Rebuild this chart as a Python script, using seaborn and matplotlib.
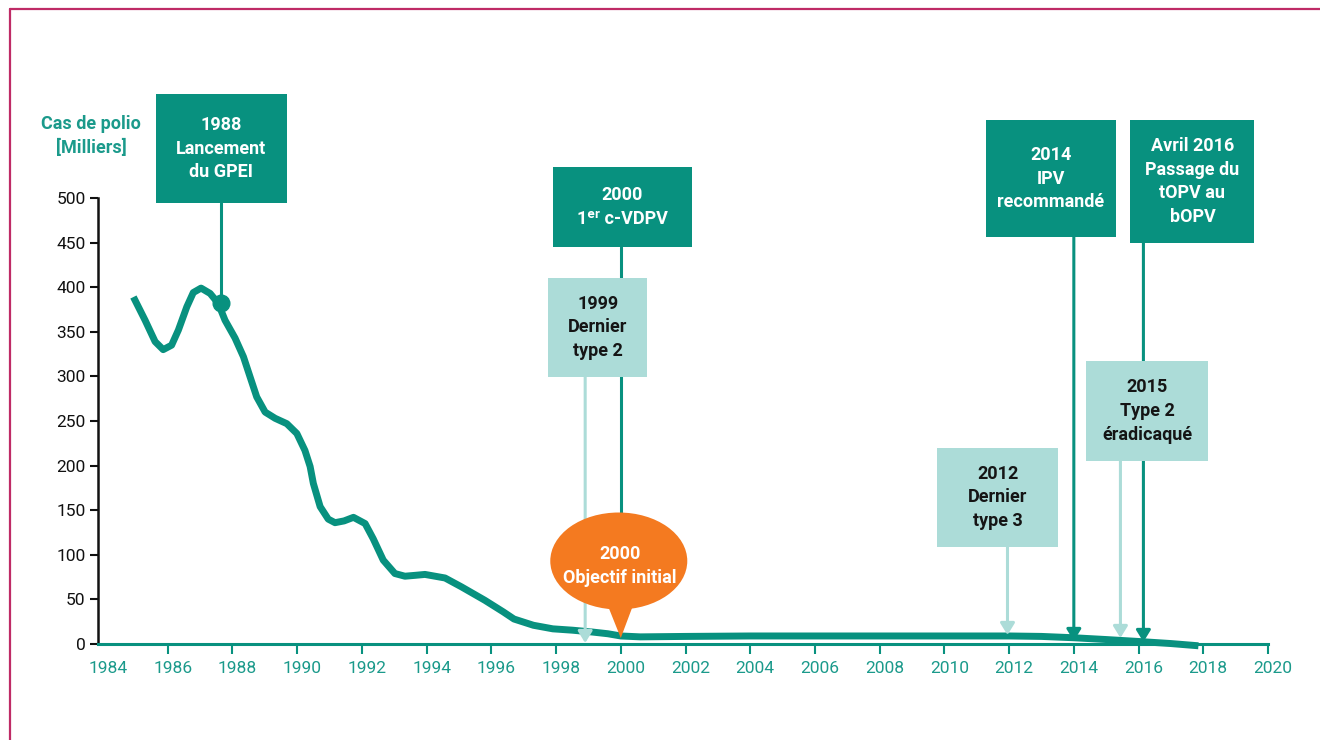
import numpy as np
import pandas as pd
import matplotlib
matplotlib.use('Agg')
import matplotlib.pyplot as plt
import seaborn as sns
from matplotlib.patches import Rectangle, Ellipse, Polygon
from matplotlib.lines import Line2D
import matplotlib.transforms as mtransforms

# ---------------- data ----------------
years = [1984.94, 1985.30, 1985.61, 1985.86, 1986.12, 1986.33, 1986.59, 1986.79, 1987.03, 1987.31,
         1987.56, 1987.77, 1988.08, 1988.34, 1988.54, 1988.75, 1989.01, 1989.32, 1989.68, 1989.99,
         1990.24, 1990.40, 1990.50, 1990.71, 1990.96, 1991.17, 1991.45, 1991.74, 1992.10, 1992.35,
         1992.66, 1993.02, 1993.33, 1993.65, 1993.95, 1994.57, 1995.08, 1995.80, 1996.37, 1996.70,
         1997.30, 1997.90, 1998.50, 1999.10, 1999.60, 2000.00, 2000.60, 2002.0, 2004.0, 2006.0,
         2008.0, 2010.0, 2012.0, 2013.0, 2014.0, 2015.0, 2016.15, 2017.0, 2017.85]
cases = [389, 363, 339, 330, 335, 352, 378, 394, 399, 393,
         382, 363, 343, 322, 300, 277, 260, 253, 247, 236,
         217, 199, 180, 154, 140, 136, 138, 142, 135, 118,
         94, 79, 76, 77, 78, 74, 64, 49, 36, 28,
         21, 17, 15.5, 13.5, 11.5, 9, 8, 8.5, 9, 9,
         9, 9, 9, 8.5, 7, 5, 2.5, 0.5, -2]

tick_years = list(range(1984, 2021, 2))
ytick_vals = list(range(0, 501, 50))

event_years = [1987.65, 2000.0, 1998.9, 2011.95, 2014.0, 2016.15, 2015.44]
event_labels = ['1988\nLancement\ndu GPEI',
                '2000\n1\u1d49\u02b3 c-VDPV',
                '1999\nDernier\ntype 2',
                '2012\nDernier\ntype 3',
                '2014\nIPV\nrecommandé',
                'Avril 2016\nPassage du\ntOPV au\nbOPV',
                '2015\nType 2\néradicaqué']
event_kinds = ['dark', 'dark', 'light', 'light', 'dark', 'dark', 'light']

goal_year = 2000.0
goal_label = '2000\nObjectif initial'
ylabel_text = 'Cas de polio\n[Milliers]'

# ---------------- style ----------------
DARK = '#08917f'
LIGHT = '#acdcd8'
ORANGE = '#f47a20'
TEAL_TXT = '#1b9a8b'
BORDER = '#bf2b66'

sns.set_theme(style='white')
plt.rcParams['font.family'] = ['Roboto', 'DejaVu Sans']

W, H = 1320, 740
fig = plt.figure(figsize=(W / 100, H / 100), dpi=100)
AX_L, AX_R, AX_B, AX_T = 98, 1268, 644, 198
ax = fig.add_axes([AX_L / W, 1 - AX_B / H, (AX_R - AX_L) / W, (AX_B - AX_T) / H])
XMIN, XMAX, YMIN, YMAX = 1984 - 5 / 32.36, 2020, 0, 500
ax.set_xlim(XMIN, XMAX)
ax.set_ylim(YMIN, YMAX)
PX_X = (AX_R - AX_L) / (XMAX - XMIN)
PX_Y = (AX_B - AX_T) / (YMAX - YMIN)


def dx(px):
    return px / PX_X


def dy(px):
    return px / PX_Y


def yv(py):
    return (AX_B - py) / PX_Y


# curve
df = pd.DataFrame({'year': years, 'cases': cases})
sns.lineplot(data=df, x='year', y='cases', ax=ax, color=DARK, lw=5, zorder=5)
curve = ax.lines[-1]
curve.set_clip_on(False)
curve.set_solid_joinstyle('round')
curve.set_solid_capstyle('butt')

# axes styling
for s in ['top', 'right']:
    ax.spines[s].set_visible(False)
ax.spines['left'].set_color('#111111')
ax.spines['left'].set_linewidth(1.8)
ax.spines['bottom'].set_color(DARK)
ax.spines['bottom'].set_linewidth(2.2)
ax.set_xticks(tick_years)
ax.set_xticklabels([str(y) for y in tick_years])
ax.set_yticks(ytick_vals)
ax.set_yticklabels([str(v) for v in ytick_vals])
ax.tick_params(axis='x', colors=DARK, labelcolor=TEAL_TXT, direction='out',
               length=7, width=1.5, labelsize=12.5, pad=5, bottom=True)
ax.tick_params(axis='y', colors='#111111', direction='out', length=6, width=1.5,
               labelsize=12.5, pad=3, left=True)
ax.xaxis.get_major_ticks()[0].tick1line.set_visible(False)
ax.set_xlabel('')
ax.set_ylabel('')
ax.grid(False)
off = mtransforms.ScaledTranslation(5 / 100, 0, fig.dpi_scale_trans)
for lab in ax.get_xticklabels():
    lab.set_transform(lab.get_transform() + off)

# ---------------- annotations ----------------
box_dx = [0, 1.5, 12.5, -9.5, -23, 49, 27]
box_w = [131, 139, 99, 121, 130, 124, 122]
box_top = [94, 167, 278, 448, 120, 120, 361]
box_bot = [203, 247, 377, 547, 237, 243, 461]
tip_py = [None, None, 643, 635, 641, 642, 638]
box_z = [8, 8, 9, 8, 8, 8, 9]

arrow_style = '-|>,head_length=0.7,head_width=0.43'

for i, ev in enumerate(event_years):
    kind = event_kinds[i]
    fc = DARK if kind == 'dark' else LIGHT
    tc = 'white' if kind == 'dark' else '#151515'
    cx = ev + dx(box_dx[i])
    w = dx(box_w[i])
    y0 = yv(box_bot[i])
    h = yv(box_top[i]) - y0
    ax.add_patch(Rectangle((cx - w / 2, y0), w, h, facecolor=fc, edgecolor='none',
                           zorder=box_z[i], clip_on=False))
    ax.text(cx, y0 + h / 2, event_labels[i], ha='center', va='center', color=tc,
            fontsize=13, fontweight='bold', linespacing=1.4, zorder=box_z[i] + 0.5,
            clip_on=False)
    if i == 0:
        val = 382
        ax.plot([ev, ev], [y0, val], color=DARK, lw=2.2, zorder=4, clip_on=False)
        ax.plot([ev], [val], marker='o', ms=12, color=DARK, zorder=6, clip_on=False)
    elif i == 1:
        ax.plot([ev, ev], [y0, yv(560)], color=DARK, lw=2.2, zorder=4, clip_on=False)
    else:
        ax.annotate('', xy=(ev, yv(tip_py[i])), xytext=(ev, y0),
                    arrowprops=dict(arrowstyle=arrow_style, color=fc, lw=2.2,
                                    shrinkA=0, shrinkB=0, mutation_scale=10),
                    zorder=6, annotation_clip=False)

# orange bubble
bx = goal_year + dx(-2)
ax.add_patch(Ellipse((bx, yv(561)), dx(137), dy(97), facecolor=ORANGE,
                     edgecolor='none', zorder=10, clip_on=False))
ax.add_patch(Polygon([(goal_year + dx(-16), yv(598)), (goal_year + dx(15), yv(598)),
                      (goal_year, yv(638))], closed=True, facecolor=ORANGE,
                     edgecolor='none', zorder=10, clip_on=False))
ax.text(goal_year + dx(-1), yv(566), goal_label, ha='center', va='center', color='white',
        fontsize=13, fontweight='bold', linespacing=1.4, zorder=11)

# y label
fig.text(91 / W, 1 - 136 / H, ylabel_text, ha='center', va='center', color=TEAL_TXT,
         fontsize=13, fontweight='bold', linespacing=1.45)

# frame border
fig.add_artist(Line2D([10 / W, 10 / W], [0, 1 - 9 / H], transform=fig.transFigure,
                      color=BORDER, lw=1.6))
fig.add_artist(Line2D([10 / W, 1], [1 - 9 / H, 1 - 9 / H], transform=fig.transFigure,
                      color=BORDER, lw=1.6))

fig.savefig('out.png', dpi=100)
